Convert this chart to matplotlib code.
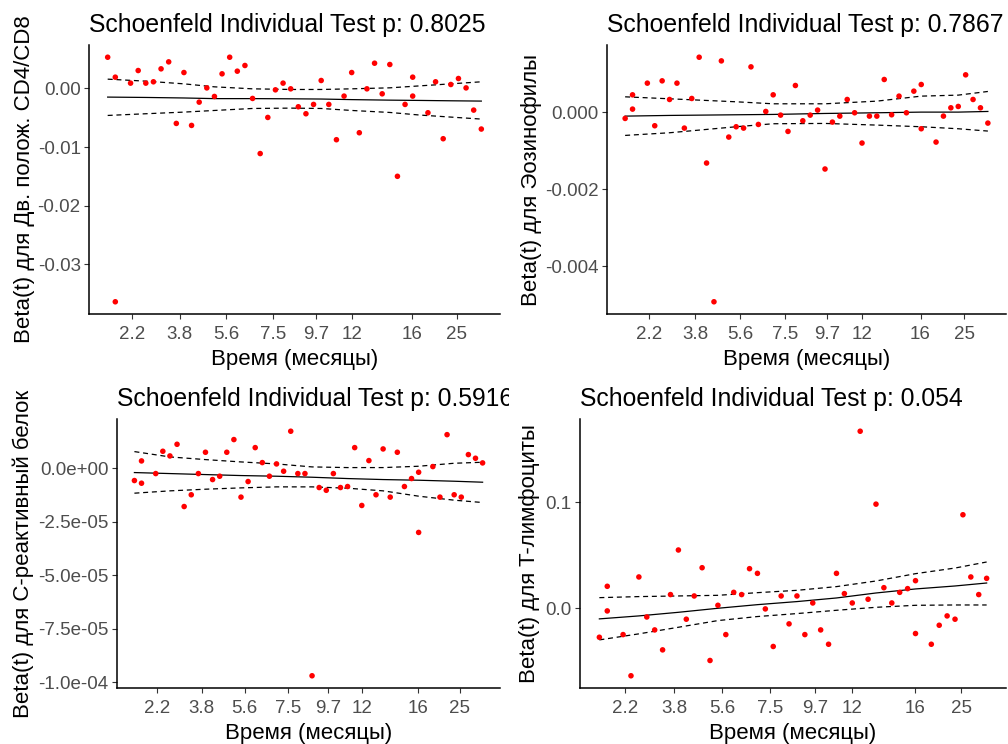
import matplotlib
matplotlib.use("Agg")
from matplotlib import pyplot as plt
from matplotlib.transforms import Bbox

plt.rcParams['font.family'] = ['Liberation Sans', 'DejaVu Sans']

# transformed time (rank of event) for every residual
slot = [0, 1, 1, 3, 4, 5, 6, 7, 8, 9, 10, 11, 12, 13, 14, 15, 16, 17, 18, 19,
        20, 21, 22, 23, 24, 25, 26, 27, 28, 29, 30, 31, 32, 33, 34, 35, 36, 37,
        38, 39, 40, 40, 42, 43, 44, 45, 46, 47, 48, 49]
tick_pos = [3.2, 9.45, 15.5, 21.65, 27.3, 32.0, 39.9, 45.8]
tick_lab = ['2.2', '3.8', '5.6', '7.5', '9.7', '12', '16', '25']

titles = ['Schoenfeld Individual Test p: 0.8025', 'Schoenfeld Individual Test p: 0.7867',
          'Schoenfeld Individual Test p: 0.5916', 'Schoenfeld Individual Test p: 0.054']
ylabels = ['Beta(t) для Дв. полож. CD4/CD8', 'Beta(t) для Эозинофилы',
           'Beta(t) для C-реактивный белок', 'Beta(t) для T-лимфоциты']
xlabel = 'Время (месяцы)'

# residuals
cd4 = [0.00533, 0.00193, -0.03638, 0.00091, 0.00306, 0.00091, 0.00114, 0.00335, 0.00454,
       -0.00596, 0.00272, -0.0063, -0.00233, 0.0001, -0.00136, 0.0025, 0.00533, 0.00295,
       0.00392, -0.0017, -0.0111, -0.00494, -0.00023, 0.00091, -0.00006, -0.00312, -0.00431,
       -0.00272, 0.00136, -0.00272, -0.00874, -0.0013, 0.00272, -0.00755, -0.00006, 0.00431,
       -0.00091, 0.00409, -0.01498, -0.00272, 0.00193, -0.0013, -0.00414, 0.00114, -0.00857,
       0.00068, 0.0017, 0.0001, -0.00369, -0.00692]
eos = [-0.000164, 0.000449, 0.000078, 0.000752, -0.000354, 0.000812, 0.000328, 0.000752,
       -0.000415, 0.000354, 0.001425, -0.001322, -0.004924, 0.00133, -0.000648, -0.00038,
       -0.000415, 0.001175, -0.00032, 0.000017, 0.000449, -0.000078, -0.000501, 0.000691,
       -0.000225, -0.000078, 0.000052, -0.001477, -0.000259, -0.000104, 0.000328, -0.000017,
       -0.000803, -0.000104, -0.000104, 0.000847, -0.000069, 0.000415, -0.000017, 0.000544,
       0.000717, -0.000432, -0.000778, -0.000104, 0.000112, 0.000147, 0.000968, 0.000328,
       0.000112, -0.000285]
crp = [-5.75e-6, 3.42e-6, -7.0e-6, -2.49e-6, 7.93e-6, 5.75e-6, 1.12e-5, -1.79e-5, -1.24e-5,
       -2.49e-6, 7.47e-6, -5.29e-6, -3.73e-6, 7.47e-6, 1.34e-5, -1.35e-5, -6.22e-6, 9.64e-6,
       2.64e-6, -3.73e-6, 2.02e-6, -1.4e-6, 1.73e-5, -2.49e-6, -2.49e-6, -9.70e-5, -9.02e-6,
       -1.03e-5, -2.49e-6, -9.02e-6, -8.55e-6, 9.64e-6, -1.74e-5, 3.58e-6, -1.24e-5, 9.02e-6,
       -1.35e-5, 7.47e-6, -8.55e-6, -4.82e-6, -1.87e-6, -3.0e-5, 7.8e-7, -1.35e-5, 1.57e-5,
       -1.24e-5, -1.35e-5, 6.38e-6, 4.67e-6, 2.49e-6]
tly = [-0.0273, 0.0207, -0.0025, -0.0248, -0.0636, 0.0295, -0.0082, -0.0204, -0.0392,
       0.0129, 0.0549, -0.0103, 0.0116, 0.0382, -0.0492, 0.0028, -0.0248, 0.015, 0.0129,
       0.0373, 0.0329, -0.0006, -0.036, 0.0116, -0.0147, 0.0116, -0.0248, 0.005, -0.0204,
       -0.0339, 0.0329, 0.0138, 0.005, 0.1668, 0.0085, 0.0981, 0.0194, 0.005, 0.015, 0.0185,
       0.026, -0.0238, -0.0339, -0.016, -0.0072, -0.0103, 0.0881, 0.0295, 0.0129, 0.0282]

# smoothed beta(t) and +/- 2 se bands
cd4_k = [0, 5, 10, 14, 19, 24, 28, 32, 37, 41, 45, 49]
cd4_fit = [-0.00147, -0.00153, -0.00162, -0.00173, -0.00173, -0.00176, -0.0018, -0.0019,
           -0.00199, -0.00204, -0.0021, -0.00215]
cd4_hi = [0.00159, 0.00125, 0.00079, 0.00028, -0.00006, -0.00017, -0.00017, -0.00006,
          0.00011, 0.00045, 0.00079, 0.00114]
cd4_lo = [-0.0046, -0.00431, -0.00403, -0.00375, -0.00341, -0.00335, -0.00341, -0.00375,
          -0.00409, -0.00454, -0.00488, -0.00522]
eos_k = [0, 6, 15, 20, 27, 34, 40, 45, 49]
eos_fit = [-0.000104, -0.000086, -0.000069, -0.00006, -0.000035, -0.000017, 0.0, 0.0, 0.000017]
eos_hi = [0.000397, 0.000346, 0.000268, 0.000216, 0.000216, 0.000285, 0.000415, 0.000441, 0.000536]
eos_lo = [-0.000605, -0.000536, -0.00038, -0.000302, -0.000294, -0.000337, -0.00038, -0.000432, -0.000492]
crp_k = [0, 5, 10, 15, 20, 25, 30, 35, 40, 45, 49]
crp_fit = [-2.02e-6, -2.49e-6, -2.96e-6, -3.42e-6, -3.73e-6, -4.2e-6, -4.82e-6, -5.29e-6,
           -5.6e-6, -6.07e-6, -6.53e-6]
crp_hi = [7.78e-6, 5.29e-6, 4.04e-6, 2.95e-6, 2.02e-6, 6.2e-7, 3.1e-7, 3.1e-7, 9.3e-7,
          2.33e-6, 2.8e-6]
crp_lo = [-1.166e-5, -1.057e-5, -9.8e-6, -9.18e-6, -8.71e-6, -8.71e-6, -9.33e-6, -1.057e-5,
          -1.306e-5, -1.493e-5, -1.602e-5]
tly_k = [0, 5, 10, 15, 20, 25, 30, 35, 40, 45, 49]
tly_fit = [-0.01, -0.0072, -0.0038, 0.0, 0.0034, 0.0063, 0.0097, 0.0144, 0.0182, 0.021, 0.0238]
tly_hi = [0.01, 0.011, 0.0116, 0.0122, 0.0147, 0.0169, 0.0204, 0.0257, 0.0326, 0.0379, 0.0436]
tly_lo = [-0.0298, -0.0241, -0.0179, -0.0116, -0.0078, -0.005, -0.0019, 0.0009, 0.0028,
          0.0031, 0.0031]

yticks = [[0.0, -0.01, -0.02, -0.03], [0.0, -0.002, -0.004],
          [0.0, -2.5e-5, -5.0e-5, -7.5e-5, -1.0e-4], [0.0, 0.1]]
ytlabs = [['0.00', '-0.01', '-0.02', '-0.03'], ['0.000', '-0.002', '-0.004'],
          ['0.0e+00', '-2.5e-05', '-5.0e-05', '-7.5e-05', '-1.0e-04'], ['0.0', '0.1']]

W, H = 1008, 744
fig = plt.figure(figsize=(W / 100, H / 100), dpi=100)

# axes boxes in pixels: left, right, top, bottom
boxes = [(89, 500, 45, 314), (607, 1006, 45, 314), (117, 500, 419, 688), (580, 1006, 419, 688)]
ylab_x = [25, 531, 23, 529]
clips = [(0, 0, 1008, 372), (504, 0, 1008, 372), (0, 372, 509, 744), (504, 372, 1008, 744)]

panels = [(cd4, cd4_k, cd4_fit, cd4_hi, cd4_lo), (eos, eos_k, eos_fit, eos_hi, eos_lo),
          (crp, crp_k, crp_fit, crp_hi, crp_lo), (tly, tly_k, tly_fit, tly_hi, tly_lo)]

for i, (res, k, fit, hi, lo) in enumerate(panels):
    l, r, t, b = boxes[i]
    ax = fig.add_axes([l / W, (H - b) / H, (r - l) / W, (b - t) / H])
    ax.scatter(slot, res, s=16, color='#FF0000', edgecolors='none', zorder=3)
    ax.plot(k, fit, color='black', lw=0.9)
    ax.plot(k, hi, color='black', lw=0.9, ls=(0, (4, 3)))
    ax.plot(k, lo, color='black', lw=0.9, ls=(0, (4, 3)))
    ax.set_xlim(-2.45, 51.45)
    ymin, ymax = min(res), max(res)
    pad = (ymax - ymin) * 0.05
    ax.set_ylim(ymin - pad, ymax + pad)
    ax.set_xticks(tick_pos)
    ax.set_xticklabels(tick_lab)
    ax.set_yticks(yticks[i])
    ax.set_yticklabels(ytlabs[i])
    ax.tick_params(labelsize=13.5, labelcolor='#4D4D4D', color='#333333', length=3.5, width=0.8)
    ax.tick_params(axis='x', pad=5)
    ax.tick_params(axis='y', pad=2.5)
    for s in ['top', 'right']:
        ax.spines[s].set_visible(False)
    for s in ['left', 'bottom']:
        ax.spines[s].set_linewidth(1.1)
    cx0, cy0, cx1, cy1 = clips[i]
    cb = Bbox.from_extents(cx0, H - cy1, cx1, H - cy0)
    tt = fig.text(l / W, (H - (t - 20)) / H, titles[i], fontsize=17.8, ha='left', va='center')
    tt.set_clip_box(cb)
    tt.set_clip_on(True)
    fig.text(ylab_x[i] / W, (H - (t + b) / 2) / H, ylabels[i], fontsize=16,
             rotation=90, ha='center', va='center')
    fig.text((l + r) / 2 / W, (H - (b + 46)) / H, xlabel, fontsize=16,
             ha='center', va='center')

fig.savefig('out.png', dpi=100)
